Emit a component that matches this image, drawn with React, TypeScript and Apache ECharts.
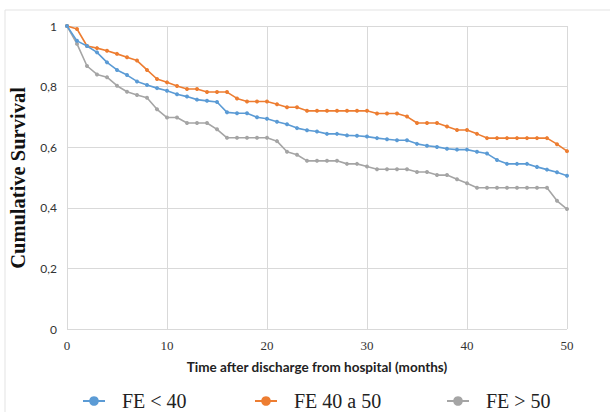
import React, { useEffect, useRef } from "react";
import * as echarts from "echarts";

const months = [
  0, 1, 2, 3, 4, 5, 6, 7, 8, 9, 10, 11, 12, 13, 14, 15, 16, 17, 18, 19, 20,
  21, 22, 23, 24, 25, 26, 27, 28, 29, 30, 31, 32, 33, 34, 35, 36, 37, 38, 39,
  40, 41, 42, 43, 44, 45, 46, 47, 48, 49, 50,
];

const feBelow40 = [
  1.0, 0.951, 0.934, 0.913, 0.88, 0.855, 0.838, 0.817, 0.805, 0.795,
  0.786, 0.775, 0.767, 0.757, 0.753, 0.749, 0.715, 0.712, 0.712, 0.699,
  0.694, 0.684, 0.676, 0.663, 0.656, 0.652, 0.644, 0.644, 0.639, 0.638,
  0.635, 0.63, 0.626, 0.623, 0.623, 0.611, 0.605, 0.601, 0.595, 0.592,
  0.592, 0.585, 0.579, 0.558, 0.545, 0.545, 0.545, 0.535, 0.526, 0.517, 0.506,
];

const fe40to50 = [
  1.0, 0.99, 0.934, 0.927, 0.918, 0.908, 0.897, 0.886, 0.855, 0.825,
  0.814, 0.802, 0.792, 0.792, 0.782, 0.782, 0.782, 0.761, 0.751, 0.751,
  0.751, 0.742, 0.732, 0.732, 0.72, 0.72, 0.72, 0.72, 0.72, 0.72,
  0.72, 0.711, 0.711, 0.711, 0.701, 0.68, 0.68, 0.68, 0.668, 0.657,
  0.657, 0.644, 0.63, 0.63, 0.63, 0.63, 0.63, 0.63, 0.63, 0.61, 0.587,
];

const feAbove50 = [
  1.0, 0.941, 0.868, 0.84, 0.831, 0.803, 0.783, 0.772, 0.763, 0.725,
  0.698, 0.698, 0.68, 0.68, 0.68, 0.659, 0.631, 0.631, 0.631, 0.631,
  0.631, 0.62, 0.585, 0.575, 0.555, 0.555, 0.555, 0.555, 0.545, 0.545,
  0.536, 0.527, 0.527, 0.527, 0.527, 0.518, 0.518, 0.508, 0.508, 0.494,
  0.481, 0.466, 0.466, 0.466, 0.466, 0.466, 0.466, 0.466, 0.466, 0.423, 0.396,
];

const seriesNames = ["FE < 40", "FE 40 a 50", "FE > 50"];
const seriesColors = ["#5B9BD5", "#ED7D31", "#A5A5A5"];
const seriesValues = [feBelow40, fe40to50, feAbove50];

const xTitle = "Time after discharge from hospital (months)";
const yTitle = "Cumulative Survival";

export default function App() {
  const ref = useRef<HTMLDivElement>(null);

  useEffect(() => {
    if (!ref.current) return;
    const chart = echarts.init(ref.current, null, { renderer: "svg" });
    const legendLefts = [77, 249, 441];
    chart.setOption({
      animation: false,
      backgroundColor: "#ffffff",
      grid: { left: 67, right: 43, top: 26, bottom: 83, containLabel: false },
      xAxis: {
        type: "value",
        min: 0,
        max: 50,
        interval: 10,
        axisLine: { show: false },
        axisTick: { show: false },
        splitLine: { show: true, lineStyle: { color: "#D9D9D9", width: 1 } },
        axisLabel: {
          fontFamily: "Liberation Serif",
          fontSize: 13,
          color: "#333333",
          margin: 10,
        },
      },
      yAxis: {
        type: "value",
        min: 0,
        max: 1,
        interval: 0.2,
        axisLine: { show: true, lineStyle: { color: "#D9D9D9", width: 1 } },
        axisTick: { show: false },
        splitLine: { show: true, lineStyle: { color: "#D9D9D9", width: 1 } },
        axisLabel: {
          fontFamily: "Lato",
          fontSize: 12,
          color: "#333333",
          margin: 10,
          formatter: (v: number) =>
            String(Math.round(v * 10) / 10).replace(".", ","),
        },
      },
      legend: seriesNames.map((n, i) => ({
        data: [n],
        left: legendLefts[i],
        top: 386,
        itemWidth: 22,
        itemHeight: 12,
        textStyle: {
          fontFamily: "Liberation Serif",
          fontSize: 20,
          color: "#222222",
          padding: [0, 0, 0, 12],
        },
      })),
      graphic: [
        {
          type: "rect",
          shape: { x: 5, y: 10, width: 700, height: 500 },
          style: { fill: "none", stroke: "#E3E3E3", lineWidth: 1 },
          silent: true,
        },
        {
          type: "text",
          x: 18,
          y: 178,
          rotation: Math.PI / 2,
          style: {
            text: yTitle,
            fontFamily: "Liberation Serif",
            fontWeight: "bold",
            fontSize: 20.5,
            fill: "#111111",
            align: "center",
            verticalAlign: "middle",
          },
        },
        {
          type: "text",
          x: 317,
          y: 367,
          style: {
            text: xTitle,
            fontFamily: "Lato",
            fontWeight: "bold",
            fontSize: 13.5,
            fill: "#222222",
            align: "center",
            verticalAlign: "middle",
          },
        },
      ],
      series: seriesNames.map((n, i) => ({
        name: n,
        type: "line",
        data: months.map((m, j) => [m, seriesValues[i][j]]),
        symbol: "circle",
        symbolSize: 4,
        showSymbol: true,
        lineStyle: { color: seriesColors[i], width: 1.6 },
        itemStyle: { color: seriesColors[i] },
        z: 3 - i,
      })),
    });
    return () => chart.dispose();
  }, []);

  return (
    <div
      ref={ref}
      style={{ position: "fixed", left: 0, top: 0, width: 610, height: 412 }}
    />
  );
}
